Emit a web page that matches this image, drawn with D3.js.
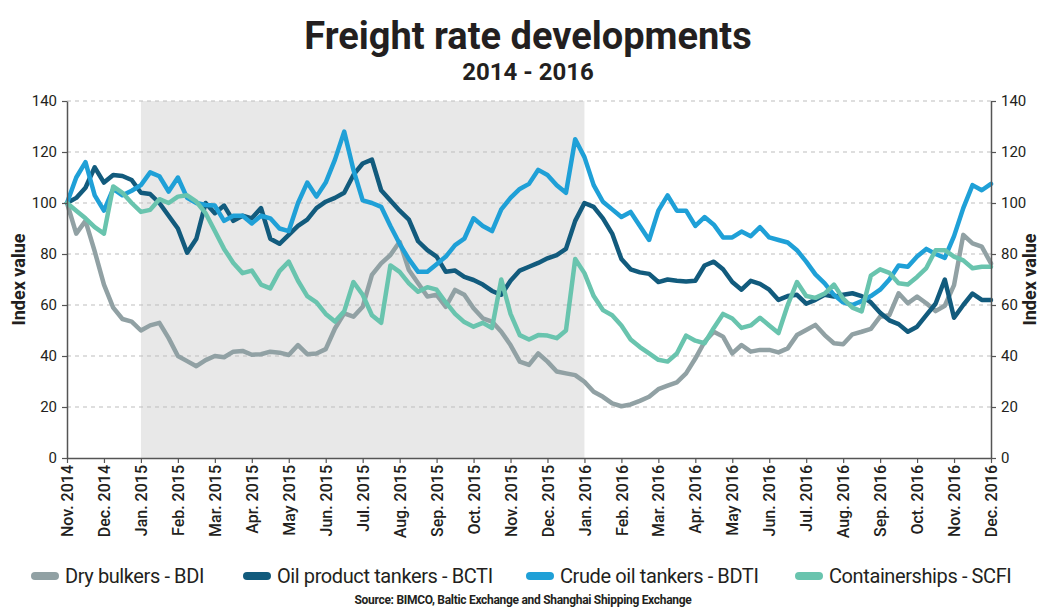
<!DOCTYPE html>
<html>
<head>
<meta charset="utf-8">
<script src="https://cdn.jsdelivr.net/npm/d3@7"></script>
<style>
  body { margin: 0; background: #fff; }
  text { font-family: "Roboto", sans-serif; fill: #231f20; }
</style>
</head>
<body>
<script>
// month tick labels, Nov. 2014 .. Dec. 2016
var months = ["Nov. 2014", "Dec. 2014", "Jan. 2015", "Feb. 2015", "Mar. 2015", "Apr. 2015",
  "May 2015", "Jun. 2015", "Jul. 2015", "Aug. 2015", "Sep. 2015", "Oct. 2015", "Nov. 2015",
  "Dec. 2015", "Jan. 2016", "Feb. 2016", "Mar. 2016", "Apr. 2016", "May 2016", "Jun. 2016",
  "Jul. 2016", "Aug. 2016", "Sep. 2016", "Oct. 2016", "Nov. 2016", "Dec. 2016"];

var yTicks = [0, 20, 40, 60, 80, 100, 120, 140];

// weekly readings (4 per month), index = 100 in Nov. 2014
var dryBulk = [100, 88, 93, 81, 68, 59, 54.5, 53.5, 50, 52, 53, 47, 40, 38, 36, 38.4, 40, 39.5, 41.7, 42, 40.5,
  40.7, 41.7, 41.3, 40.4, 44.3, 40.7, 41, 42.7, 50.8, 56.7, 55.4, 59.3, 71.8, 76.3, 79.6, 84.8, 73.7, 68.5, 63.3, 64,
  59.3, 65.9, 64, 58.7, 54.8, 53.5, 49.5, 44.3, 37.8, 36.5, 41, 37.8, 33.9, 33.2, 32.5, 29.9, 26, 24, 21.4, 20.3,
  21, 22.4, 24, 27, 28.4, 29.7, 33.2, 39, 45.6, 49.5, 47.6, 41, 44.3, 41.7, 42.4, 42.4, 41.4, 43, 48.2, 50.2,
  52.2, 48.2, 45, 44.6, 48.5, 49.5, 50.6, 55.4, 56, 64.6, 60.7, 63.3, 60.7, 57.6, 59.7, 67.8, 87.5, 84.2, 82.9, 76.3];

var oilProduct = [100, 102, 106, 114, 108, 111, 110.6, 109, 104, 103.5, 100, 95, 90, 80.5, 86, 100, 96, 99, 93, 95, 94,
  98, 86, 84, 87.5, 91, 93.5, 98, 100.5, 102, 104, 111, 115.5, 117, 105, 101, 97, 93.5, 85, 81.5, 79,
  73, 73.5, 71, 69.8, 68, 65.5, 64, 69.5, 73.5, 75, 76.5, 78.3, 79.6, 82, 93, 100, 98.5, 94, 88, 78,
  74, 72.8, 72.2, 69, 70, 69.5, 69.2, 69.5, 75.5, 77, 74, 69, 66, 69.5, 68.3, 66, 62, 63.5, 64, 60.5,
  62, 64, 63.3, 64, 64.6, 63.5, 61, 57, 54, 52.5, 49.5, 51.5, 56, 60.5, 70, 55, 60, 64.5, 62, 62];

var crudeOil = [100, 110, 116, 103, 97, 105.5, 103, 104.8, 107, 112, 110.5, 104.5, 110, 102, 100, 99.2, 99, 93, 95, 95, 92,
  95, 94, 90, 89, 100, 108, 102.5, 108, 117, 128, 113, 101, 100, 98.5, 91, 84, 78, 73, 73, 76,
  79, 83.5, 86, 94, 91, 89, 97.5, 102, 105.5, 107.5, 113, 111, 107, 104, 125, 118, 107, 100.5, 97.5, 94.5,
  96.5, 91, 85.5, 97, 103, 97, 97, 91, 94.5, 91.5, 86.5, 86.5, 88.8, 87, 90.5, 86.5, 85.5, 84.5, 81.5, 77,
  72, 68.5, 64, 61, 60, 61.5, 63.5, 66, 70, 75.5, 75, 79, 82, 80, 78.5, 87, 98, 107, 105, 107.5];

var containers = [100, 97, 94, 90.5, 88, 106.5, 104, 100, 96.5, 97.3, 101.5, 100, 102.5, 103, 100.5, 96, 89, 82, 76.5, 72.5, 73.5,
  68, 66.5, 73.3, 77, 69.5, 63.5, 61, 56.5, 53.5, 57.5, 69, 64, 56, 53, 75.5, 73, 68.5, 65.2, 67, 66,
  61, 56.5, 53.3, 51.5, 53, 51, 70, 56.5, 48.2, 46.5, 48.2, 48, 47, 50, 78, 72.5, 63.5, 58, 56, 52,
  46.5, 43.5, 41, 38.5, 37.8, 41, 48, 46, 45, 51, 56.5, 54.7, 51, 52, 55, 52, 49, 60, 69, 63.5,
  62.8, 64.5, 68, 62.5, 59, 57.5, 71.5, 74, 72.6, 68.5, 68, 71, 74.5, 81.5, 81.5, 79, 77.5, 74.4, 75, 75];

var seriesNames = ["Dry bulkers - BDI", "Oil product tankers - BCTI", "Crude oil tankers - BDTI", "Containerships - SCFI"];
var seriesColors = ["#91a1a4", "#125b7d", "#1fa0d7", "#69c4ae"];
var seriesData = [dryBulk, oilProduct, crudeOil, containers];

// shaded period: Jan. 2015 to Jan. 2016 (month index)
var shadeFrom = 2, shadeTo = 14;

var W = 1046, H = 609;
var mLeft = 67, mRight = 991, mTop = 101, mBottom = 458;

var svg = d3.select("body").append("svg")
  .attr("width", W)
  .attr("height", H);

var x = d3.scaleLinear().domain([0, months.length - 1]).range([mLeft, mRight]);
var y = d3.scaleLinear().domain([0, 140]).range([mBottom, mTop]);

// shaded band
svg.append("rect")
  .attr("x", x(shadeFrom))
  .attr("y", mTop)
  .attr("width", x(shadeTo) - x(shadeFrom))
  .attr("height", mBottom - mTop)
  .attr("fill", "#e8e8e8");

// dashed grid
svg.append("g").selectAll("line")
  .data(yTicks.filter(function(d) { return d > 0; }))
  .enter().append("line")
  .attr("x1", mLeft).attr("x2", mRight)
  .attr("y1", function(d) { return y(d); })
  .attr("y2", function(d) { return y(d); })
  .attr("stroke", "#bdbdbd")
  .attr("stroke-width", 1)
  .attr("stroke-dasharray", "4,4");

// lines
var line = d3.line()
  .x(function(d, i) { return x(i / 4); })
  .y(function(d) { return y(d); });

svg.append("g").selectAll("path")
  .data(seriesData)
  .enter().append("path")
  .attr("d", line)
  .attr("fill", "none")
  .attr("stroke", function(d, i) { return seriesColors[i]; })
  .attr("stroke-width", 4.5)
  .attr("stroke-linejoin", "round")
  .attr("stroke-linecap", "round");

// axes
function styleAxis(g) {
  g.selectAll("path").attr("stroke", "#555").attr("stroke-width", 1.5);
  g.selectAll("line").attr("stroke", "#555").attr("stroke-width", 1.2);
  g.selectAll("text").attr("font-size", 15).attr("fill", "#231f20");
}

var yLeft = svg.append("g")
  .attr("transform", "translate(" + mLeft + ",0)")
  .call(d3.axisLeft(y).tickValues(yTicks).tickSize(5).tickSizeOuter(0).tickPadding(5));
styleAxis(yLeft);

var yRight = svg.append("g")
  .attr("transform", "translate(" + mRight + ",0)")
  .call(d3.axisRight(y).tickValues(yTicks).tickSize(5).tickSizeOuter(0).tickPadding(5));
styleAxis(yRight);

var xAxis = svg.append("g")
  .attr("transform", "translate(0," + mBottom + ")")
  .call(d3.axisBottom(x).tickValues(d3.range(months.length))
    .tickFormat(function(i) { return months[i]; }).tickSize(5).tickSizeOuter(0));
styleAxis(xAxis);
xAxis.selectAll("text")
  .attr("font-size", 16)
  .attr("font-weight", 500)
  .attr("text-anchor", "end")
  .attr("transform", "rotate(-90)")
  .attr("x", -7)
  .attr("y", 0)
  .attr("dy", "0.35em");

// axis titles
svg.append("text")
  .attr("transform", "translate(25," + (mTop + mBottom) / 2 + ") rotate(-90)")
  .attr("text-anchor", "middle")
  .attr("font-size", 18)
  .attr("font-weight", "bold")
  .text("Index value");

svg.append("text")
  .attr("transform", "translate(1036," + (mTop + mBottom) / 2 + ") rotate(-90)")
  .attr("text-anchor", "middle")
  .attr("font-size", 18)
  .attr("font-weight", "bold")
  .text("Index value");

// title
svg.append("text")
  .attr("x", 528).attr("y", 49)
  .attr("text-anchor", "middle")
  .attr("font-weight", "bold")
  .attr("font-size", 38)
  .text("Freight rate developments");

svg.append("text")
  .attr("x", 528).attr("y", 80)
  .attr("text-anchor", "middle")
  .attr("font-weight", "bold")
  .attr("font-size", 24)
  .text("2014 - 2016");

// legend
var legendX = [33, 245, 528, 797];
var legend = svg.append("g").selectAll("g")
  .data(seriesNames)
  .enter().append("g")
  .attr("transform", function(d, i) { return "translate(" + legendX[i] + ",576)"; });

legend.append("line")
  .attr("x1", 2).attr("x2", 22)
  .attr("y1", 0).attr("y2", 0)
  .attr("stroke", function(d, i) { return seriesColors[i]; })
  .attr("stroke-width", 8)
  .attr("stroke-linecap", "round");

legend.append("text")
  .attr("x", 32)
  .attr("dy", "0.35em")
  .attr("font-size", 20)
  .attr("letter-spacing", -0.4)
  .text(function(d) { return d; });

svg.append("text")
  .attr("x", 523).attr("y", 604)
  .attr("text-anchor", "middle")
  .attr("font-size", 12)
  .attr("font-weight", "bold")
  .attr("letter-spacing", -0.3)
  .text("Source: BIMCO, Baltic Exchange and Shanghai Shipping Exchange");
</script>
</body>
</html>
